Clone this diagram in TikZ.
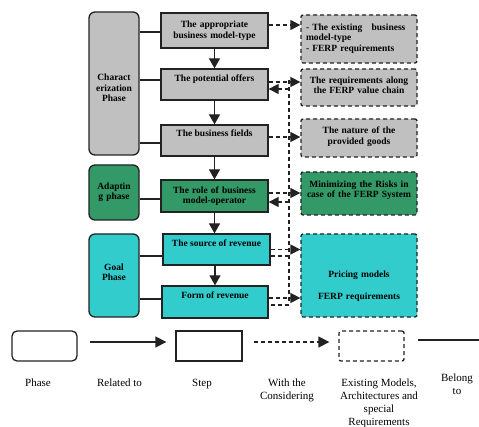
\documentclass[tikz,border=0pt]{standalone}
\usepackage{fontspec}
\setmainfont{Liberation Serif}
\usepackage{tikz}
\usetikzlibrary{arrows.meta,positioning,calc}
\definecolor{PhGray}{HTML}{C0C0C0}
\definecolor{PhGreen}{HTML}{339966}
\definecolor{PhTeal}{HTML}{33CCCC}
\definecolor{PhDark}{HTML}{222222}
\newcommand{\boxfont}{\fontsize{9.5}{10.5}\selectfont\bfseries}
\newcommand{\legfont}{\fontsize{11}{13}\selectfont}
\tikzset{
  phasebox/.style={draw=PhDark,rounded corners=6pt,line width=1.3pt,minimum width=50pt,inner sep=3pt,align=center,font=\boxfont},
  stepbox/.style={draw=PhDark,line width=1.3pt,minimum width=107pt,inner sep=3pt,align=center,font=\boxfont},
  reqbox/.style={draw=PhDark,rounded corners=2pt,line width=1.3pt,dash pattern=on 4pt off 3pt,minimum width=116pt,inner sep=3pt,align=center,font=\boxfont},
  solidarrow/.style={-{Triangle[length=10pt,width=11pt]},line width=1.3pt,draw=PhDark},
  dasharrow/.style={-{Triangle[length=10pt,width=10pt]},line width=1.3pt,draw=PhDark,dash pattern=on 4pt off 3pt},
  dashline/.style={line width=1.3pt,draw=PhDark,dash pattern=on 4pt off 3pt},
  belongline/.style={line width=1.3pt,draw=PhDark},
  legtext/.style={font=\legfont,align=center,anchor=north,inner sep=0pt}
}
\begin{document}
\begin{tikzpicture}[x=1pt,y=-1pt]
\useasboundingbox (0,0) rectangle (479,427);
% phases
\node[phasebox,fill=PhGray,minimum height=143pt,text width=44pt,text height=15.5pt] (charph) at (114,83.5) {Charact\\erization\\Phase};
\node[phasebox,fill=PhGreen,minimum height=55pt,text width=44pt] (adph) at (114,192.5) {Adaptin\\g phase};
\node[phasebox,fill=PhTeal,minimum height=83pt,text width=44pt,text depth=17.5pt] (goalph) at (114,275.5) {Goal\\Phase};
% steps
\node[stepbox,fill=PhGray,minimum height=35pt,text width=100pt] (appr) at (214.5,30.5) {The appropriate\\business model-type};
\node[stepbox,fill=PhGray,minimum height=31pt,text depth=12pt] (offer) at (214.5,84.5) {The potential offers};
\node[stepbox,fill=PhGray,minimum height=31pt,text depth=14pt] (field) at (214.5,140.5) {The business fields};
\node[stepbox,fill=PhGreen,minimum height=32pt,text width=100pt] (role) at (214.5,196) {The role of business\\model-operator};
\node[stepbox,fill=PhTeal,minimum height=31pt,text depth=13pt] (src) at (216.5,249.5) {The source of revenue};
\node[stepbox,fill=PhTeal,minimum width=106pt,minimum height=32pt,text depth=14pt] (form) at (215,302) {Form of revenue};
% requirements
\node[reqbox,fill=PhGray,minimum height=48pt,text width=106pt,align=left,text depth=24pt] (exist) at (359,39) {- The existing\hspace{6pt} business\\model-type\\- FERP requirements};
\node[reqbox,fill=PhGray,minimum height=37pt,text width=108pt,text depth=15pt] (req) at (359,87.5) {The requirements along\\the FERP value chain};
\node[reqbox,fill=PhGray,minimum height=38pt,text width=108pt,text depth=15pt] (nat) at (359,138) {The nature of the\\provided goods};
\node[reqbox,fill=PhGreen,minimum height=43pt,text width=108pt,text depth=19.5pt] (risk) at (359,193.5) {Minimizing the Risks in\\case of the FERP System};
\node[reqbox,fill=PhTeal,minimum height=83pt,text width=108pt,text height=27.5pt] (price) at (359,275.5) {Pricing models\\[11.5pt]FERP requirements};
% belong to
\draw[belongline] ([yshift=-1.5pt]appr.west -| charph.east) -- ([yshift=-1.5pt]appr.west);
\draw[belongline] ([yshift=4.5pt]offer.west -| charph.east) -- ([yshift=4.5pt]offer.west);
\draw[belongline] ([yshift=-2.5pt]field.west -| charph.east) -- ([yshift=-2.5pt]field.west);
\draw[belongline] ([yshift=-3pt]role.west -| adph.east) -- ([yshift=-3pt]role.west);
\draw[belongline] ([yshift=-6.5pt]src.west -| goalph.east) -- ([yshift=-6.5pt]src.west);
\draw[belongline] ([yshift=3pt]form.west -| goalph.east) -- ([yshift=3pt]form.west);
% related to
\draw[solidarrow] (appr.south) -- (offer.north);
\draw[solidarrow] (offer.south) -- (field.north);
\draw[solidarrow] (field.south) -- (role.north);
\draw[solidarrow] (role.south) -- (role.south |- src.north);
\draw[solidarrow] (src.south -| form.north) -- (form.north);
% with the considering
\coordinate (bustop) at (289,80);
\coordinate (busbot) at (289,303);
\draw[dashline] (bustop) -- (busbot);
\draw[dasharrow] ([yshift=5.5pt]appr.east) -- ([yshift=5.5pt]appr.east -| exist.west);
\draw[dasharrow] ([yshift=2.5pt]offer.east) -- ([yshift=2.5pt]offer.east -| req.west);
\draw[dasharrow] ([yshift=-4.5pt]offer.east -| bustop) -- ([yshift=-4.5pt]offer.east);
\draw[dasharrow] ([yshift=3.5pt]field.east) -- ([yshift=3.5pt]field.east -| nat.west);
\draw[dasharrow] ([yshift=3pt]role.east) -- ([yshift=3pt]role.east -| risk.west);
\draw[dasharrow] ([yshift=-6pt]role.east -| bustop) -- ([yshift=-6pt]role.east);
\draw[dasharrow] (src.east) -- (src.east -| price.west);
\draw[dashline] ([yshift=-6.5pt]src.east -| bustop) -- ([yshift=-6.5pt]src.east);
\draw[dasharrow] ([yshift=4pt]form.east) -- ([yshift=4pt]form.east -| price.west);
\draw[dashline] ([yshift=-3pt]form.east -| bustop) -- ([yshift=-3pt]form.east);
% legend
\node[phasebox,rounded corners=5pt,fill=white,minimum width=65pt,minimum height=30pt] (legphase) at (44.5,346) {};
\node[stepbox,fill=white,minimum width=66pt,minimum height=30pt] (legstep) at (209,346) {};
\node[reqbox,fill=white,minimum width=65pt,minimum height=30pt] (legreq) at (371.5,346) {};
\coordinate (legend) at (479,340);
\draw[solidarrow,-{Triangle[length=11pt,width=11pt]},shorten <=12pt,shorten >=9pt] ([yshift=4pt]legphase.east) -- ([yshift=4pt]legstep.west);
\draw[dasharrow,-{Triangle[length=11pt,width=11pt]},shorten <=11pt,shorten >=9pt] ([yshift=4pt]legstep.east) -- ([yshift=4pt]legreq.west);
\draw[belongline,shorten <=13pt] (legreq.east |- legend) -- (legend);
\node[legtext] (lblphase) at (38,379) {Phase};
\node[legtext] (lblrel) at (119.5,379) {Related to};
\node[legtext] (lblstep) at (202,379) {Step};
\node[legtext] (lblcons) at (287,379) {With the\\Considering};
\node[legtext] (lblreq) at (379,379) {Existing Models,\\Architectures and\\special\\Requirements};
\node[legtext] (lblbel) at (457,374) {Belong\\to};
\end{tikzpicture}
\end{document}
